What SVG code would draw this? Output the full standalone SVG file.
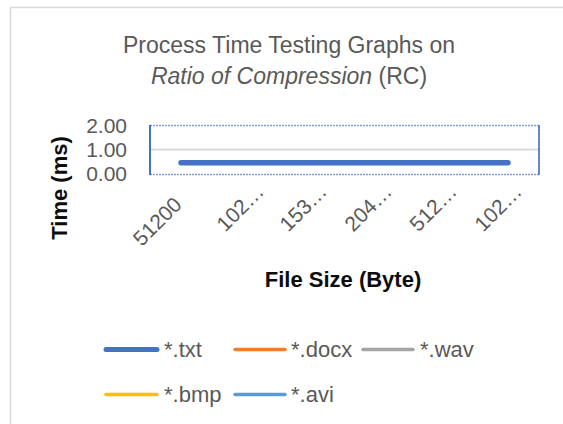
<svg xmlns="http://www.w3.org/2000/svg" width="563" height="424" viewBox="0 0 563 424">
<style>
.t{font-family:"Liberation Sans",Arial,sans-serif;fill:#595959}
.b{font-family:"Liberation Sans",Arial,sans-serif;font-weight:bold;fill:#0d0d0d}
.tick{font-size:21px}
.leg{font-size:22px}
.ln{fill:none;stroke-linecap:round}
</style>
<rect x="0" y="0" width="563" height="424" fill="#ffffff"/>
<g id="chart-frame">
<path d="M10.5 430 V7.5 H570" fill="none" stroke="#d9d9d9" stroke-width="1.5"/>
</g>
<g id="title">
<text class="t" x="289" y="53" font-size="23" text-anchor="middle">Process Time Testing Graphs on</text>
<text class="t" x="289" y="84" font-size="23" text-anchor="middle"><tspan font-style="italic">Ratio of Compression</tspan> (RC)</text>
</g>
<g id="plot-area">
<line x1="150" y1="149.5" x2="539" y2="149.5" stroke="#d9d9d9" stroke-width="2"/>
<rect x="150" y="125.5" width="389" height="49" fill="none" stroke="#7f9fd8" stroke-width="1.5" stroke-dasharray="2 1"/>
<line x1="150" y1="125" x2="150" y2="175" stroke="#4472c4" stroke-width="2"/>
<line x1="539" y1="125" x2="539" y2="175" stroke="#4472c4" stroke-width="1.5"/>
</g>
<g id="y-axis">
<text class="t tick" x="127" y="133" text-anchor="end">2.00</text>
<text class="t tick" x="127" y="157" text-anchor="end">1.00</text>
<text class="t tick" x="127" y="181" text-anchor="end">0.00</text>
<text class="b" font-size="22" transform="translate(67,188) rotate(-90)" text-anchor="middle">Time (ms)</text>
</g>
<g id="x-axis">
<text class="t tick" text-anchor="end" transform="translate(183,206) rotate(-45)">51200</text>
<text class="t tick" text-anchor="end" transform="translate(265,193) rotate(-45)">102…</text>
<text class="t tick" text-anchor="end" transform="translate(328,193) rotate(-45)">153…</text>
<text class="t tick" text-anchor="end" transform="translate(393,193) rotate(-45)">204…</text>
<text class="t tick" text-anchor="end" transform="translate(458,193) rotate(-45)">512…</text>
<text class="t tick" text-anchor="end" transform="translate(523,193) rotate(-45)">102…</text>
<text class="b" x="343" y="287" font-size="22" text-anchor="middle">File Size (Byte)</text>
</g>
<g id="connectors">
<line class="ln" x1="181" y1="162.7" x2="508" y2="162.7" stroke="#4472c4" stroke-width="5.5"/>
</g>
<g id="legend">
<line class="ln" x1="106" y1="349.5" x2="157" y2="349.5" stroke="#4472c4" stroke-width="5"/>
<text class="t leg" x="164" y="357">*.txt</text>
<line class="ln" x1="235" y1="349.5" x2="285" y2="349.5" stroke="#ed7d31" stroke-width="3.5"/>
<text class="t leg" x="291" y="357">*.docx</text>
<line class="ln" x1="363" y1="349.5" x2="413" y2="349.5" stroke="#a5a5a5" stroke-width="3.5"/>
<text class="t leg" x="420" y="357">*.wav</text>
<line class="ln" x1="106" y1="394.5" x2="157" y2="394.5" stroke="#ffc000" stroke-width="3.5"/>
<text class="t leg" x="164" y="402">*.bmp</text>
<line class="ln" x1="235" y1="394.5" x2="285" y2="394.5" stroke="#5b9bd5" stroke-width="3.5"/>
<text class="t leg" x="291" y="402">*.avi</text>
</g>
</svg>
